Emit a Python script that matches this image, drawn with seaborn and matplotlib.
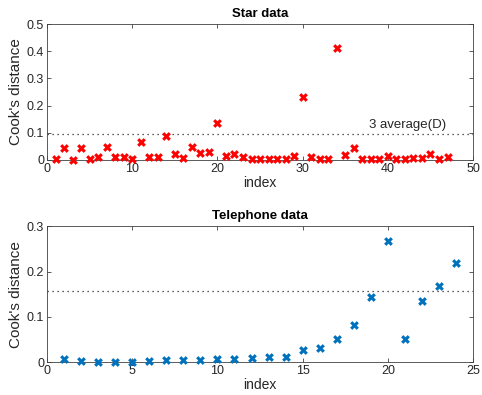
import seaborn as sns
import matplotlib.pyplot as plt
import matplotlib.ticker as mticker
import numpy as np
import pandas as pd

star_d = [0.004, 0.044, 0.001, 0.044, 0.002, 0.012, 0.046, 0.010, 0.012, 0.002,
          0.067, 0.011, 0.011, 0.089, 0.021, 0.007, 0.047, 0.025, 0.028, 0.136,
          0.016, 0.023, 0.012, 0.002, 0.002, 0.005, 0.005, 0.002, 0.016, 0.233,
          0.011, 0.004, 0.004, 0.413, 0.018, 0.044, 0.002, 0.003, 0.004, 0.015,
          0.005, 0.002, 0.009, 0.009, 0.023, 0.002, 0.010]
phone_d = [0.0074, 0.003, 0.001, 0.001, 0.0015, 0.002, 0.004, 0.0045, 0.005, 0.0066,
           0.008, 0.0096, 0.0118, 0.0125, 0.0265, 0.031, 0.052, 0.082, 0.143, 0.267,
           0.052, 0.135, 0.168, 0.218]

titles = ["Star data", "Telephone data"]
colors = ["#FF0000", "#0072BD"]
xlims = [50, 25]
ylims = [0.5, 0.3]

sns.set_style("white")
plt.rcParams['font.family'] = ['Liberation Sans', 'DejaVu Sans']
txt = "#262626"

fig = plt.figure(figsize=(4.82, 3.95), dpi=100)
ax1 = fig.add_axes([0.0975, 0.595, 0.884, 0.344])
ax2 = fig.add_axes([0.0975, 0.083, 0.884, 0.344])

for ax, d, title, c, xl, yl in zip([ax1, ax2], [star_d, phone_d], titles, colors, xlims, ylims):
    df = pd.DataFrame({"index": np.arange(1, len(d) + 1), "D": d})
    sns.scatterplot(data=df, x="index", y="D", ax=ax, marker="X", color=c,
                    s=40, linewidth=0, zorder=3, clip_on=False)
    cut = 3 * np.mean(d)
    ax.axhline(cut, color="#262626", linestyle=(0, (1, 3)), linewidth=0.9)
    ax.set_xlim(0, xl)
    ax.set_ylim(0, yl)
    ax.set_title(title, fontsize=9.5, fontweight="bold", color="black", pad=5)
    ax.set_xlabel("index", fontsize=10, color=txt, labelpad=1)
    ax.set_ylabel("Cook's distance", fontsize=11, color=txt, labelpad=3)
    ax.yaxis.set_major_formatter(mticker.FormatStrFormatter("%g"))
    ax.tick_params(direction="in", length=3, width=0.6, colors="#404040",
                   labelcolor=txt, labelsize=9, top=True, right=True,
                   bottom=True, left=True, pad=2)
    for sp in ax.spines.values():
        sp.set_color("#404040")
        sp.set_linewidth(0.6)

ax1.set_xticks([0, 10, 20, 30, 40, 50])
ax1.set_yticks([0, 0.1, 0.2, 0.3, 0.4, 0.5])
ax2.set_xticks([0, 5, 10, 15, 20, 25])
ax2.set_yticks([0, 0.1, 0.2, 0.3])
ax1.text(46.8, 3 * np.mean(star_d) + 0.01, "3 average(D)", ha="right", va="bottom",
         fontsize=9.5, color=txt)

fig.savefig("out.png", dpi=100)
